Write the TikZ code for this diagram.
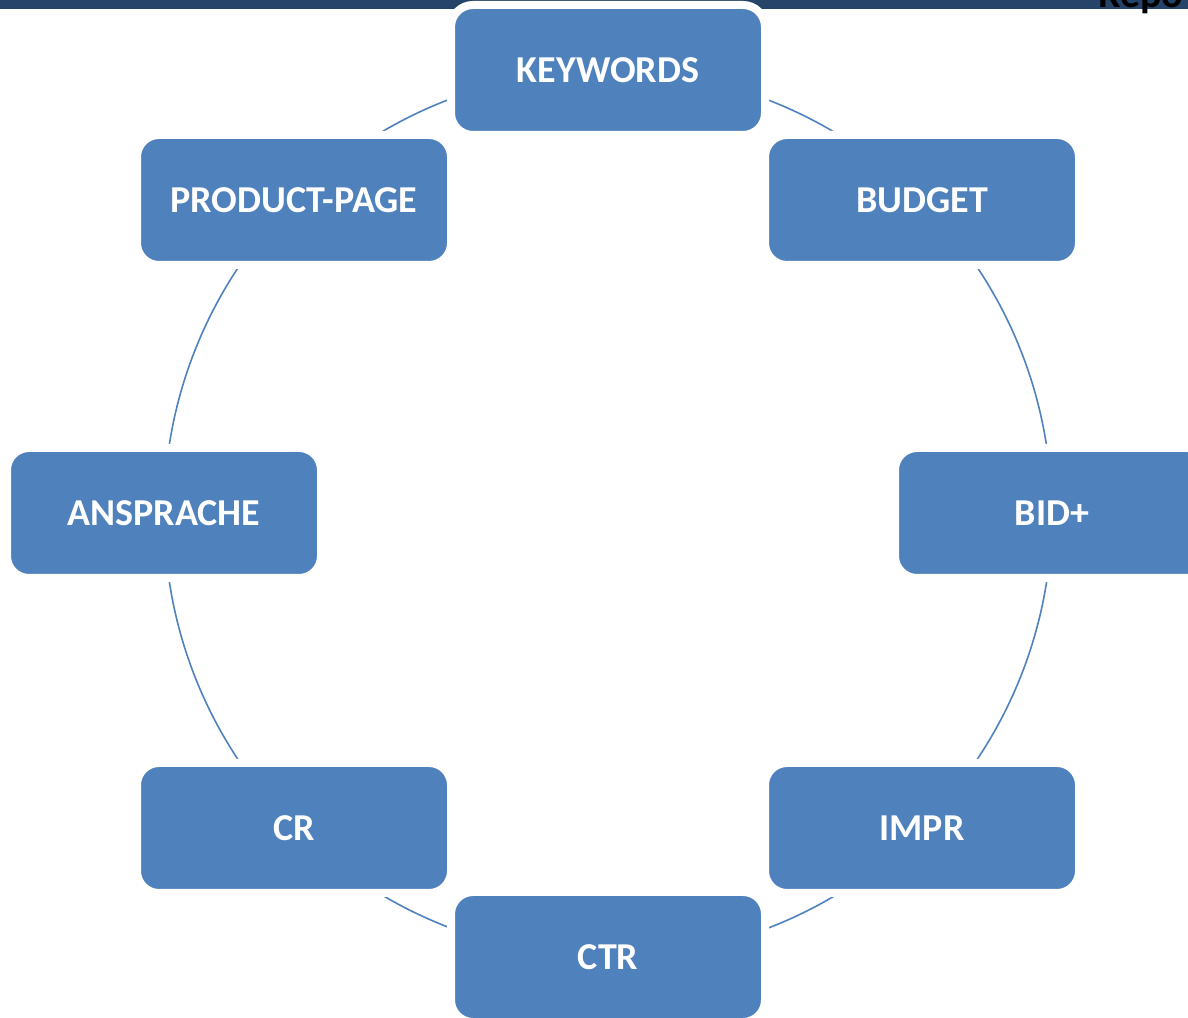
\documentclass[tikz,border=0pt]{standalone}
\usepackage{fontspec}
\setmainfont{Carlito}
\usepackage{tikz}
\usetikzlibrary{backgrounds}
\definecolor{boxblue}{RGB}{79,129,189}
\definecolor{barnavy}{RGB}{38,68,106}

\begin{document}
\begin{tikzpicture}[line cap=round,line join=round,x=0.5pt,y=0.5pt,
  stage/.style={rectangle,rounded corners=11pt,fill=boxblue,draw=white,line width=4pt,
    minimum width=157pt,minimum height=65pt,inner sep=0pt,text=white,
    font=\fontsize{19}{23}\selectfont\bfseries},
  ring/.style={draw=boxblue,line width=0.8pt}]

\useasboundingbox (0,0) rectangle (1188,1017);
\clip (0,0) rectangle (1188,1017);

% title bar
\fill[barnavy] (0,1008) rectangle (1188,1017);
\node[anchor=base west,inner sep=0pt,font=\fontsize{20}{24}\selectfont\bfseries] (title) at (1098,1009) {Repo};

% the eight stages
\node[stage] (kw)   at (608,947) {KEYWORDS};
\node[stage] (bud)  at (922,817) {BUDGET};
\node[stage] (bid)  at (1052,504) {BID+};
\node[stage] (impr) at (922,189) {IMPR};
\node[stage] (ctr)  at (608,60)  {CTR};
\node[stage] (cr)   at (294,189) {CR};
\node[stage] (ansp) at (164,504) {ANSPRACHE};
\node[stage] (prod) at (294,817) {PRODUCT-PAGE};

% cycle
\begin{pgfonlayer}{background}
\draw[ring] (kw.center)   arc[start angle=90,  end angle=45,   radius=443];
\draw[ring] (bud.center)  arc[start angle=45,  end angle=0,    radius=443];
\draw[ring] (bid.center)  arc[start angle=0,   end angle=-45,  radius=443];
\draw[ring] (impr.center) arc[start angle=-45, end angle=-90,  radius=443];
\draw[ring] (ctr.center)  arc[start angle=-90, end angle=-135, radius=443];
\draw[ring] (cr.center)   arc[start angle=-135,end angle=-180, radius=443];
\draw[ring] (ansp.center) arc[start angle=180, end angle=135,  radius=443];
\draw[ring] (prod.center) arc[start angle=135, end angle=90,   radius=443];
\end{pgfonlayer}
\end{tikzpicture}
\end{document}
